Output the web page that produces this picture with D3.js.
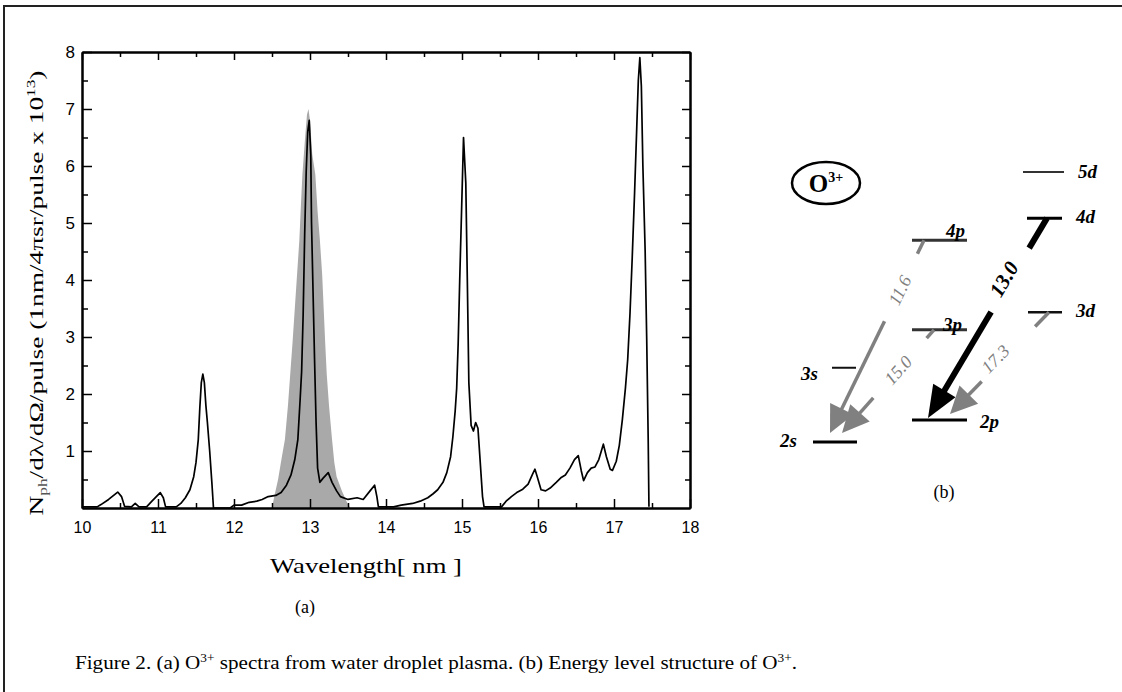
<!DOCTYPE html>
<html><head><meta charset="utf-8">
<script src="https://cdn.jsdelivr.net/npm/d3@7"></script>
<style>body{margin:0;background:#fff}svg{display:block}</style>
</head><body>
<svg id="c" width="1122" height="692"></svg>
<script>
// ---------- DATA ----------
const wavelength = [10.00,10.20,10.25,10.35,10.47,10.52,10.56,10.65,10.70,10.75,10.85,10.92,11.03,11.07,11.10,11.24,11.30,11.36,11.42,11.47,11.50,11.53,11.55,11.57,11.59,11.61,11.63,11.65,11.68,11.71,11.73,11.95,12.00,12.10,12.20,12.30,12.37,12.45,12.55,12.62,12.69,12.75,12.80,12.84,12.87,12.89,12.91,12.93,12.95,12.97,12.99,13.01,13.02,13.04,13.06,13.08,13.10,13.13,13.17,13.24,13.29,13.35,13.40,13.50,13.62,13.70,13.79,13.85,13.88,13.90,14.10,14.20,14.35,14.45,14.55,14.62,14.68,14.75,14.80,14.85,14.88,14.91,14.93,14.95,14.97,14.99,15.02,15.05,15.07,15.09,15.12,15.15,15.18,15.21,15.24,15.27,15.29,15.52,15.58,15.65,15.72,15.80,15.87,15.93,15.96,15.99,16.04,16.10,16.16,16.24,16.30,16.36,16.42,16.48,16.53,16.57,16.60,16.65,16.70,16.75,16.80,16.86,16.90,16.95,16.98,17.03,17.07,17.11,17.15,17.18,17.21,17.24,17.27,17.30,17.32,17.34,17.36,17.38,17.41,17.43,17.45,17.46];
const intensity  = [0.02,0.02,0.06,0.15,0.28,0.20,0.03,0.02,0.08,0.02,0.02,0.12,0.27,0.18,0.02,0.02,0.08,0.18,0.32,0.55,0.80,1.20,1.75,2.20,2.35,2.20,1.80,1.50,1.00,0.42,0.00,0.00,0.05,0.05,0.10,0.12,0.15,0.20,0.22,0.27,0.40,0.58,0.85,1.20,1.90,2.40,3.40,4.80,5.90,6.60,6.80,6.20,5.00,3.80,2.60,1.50,0.70,0.45,0.52,0.62,0.45,0.30,0.20,0.15,0.18,0.15,0.30,0.40,0.20,0.02,0.02,0.05,0.08,0.12,0.18,0.25,0.32,0.45,0.62,0.90,1.25,1.70,2.10,2.90,4.00,5.00,6.50,5.70,4.00,2.20,1.45,1.35,1.50,1.40,0.80,0.20,0.02,0.02,0.12,0.20,0.27,0.33,0.42,0.60,0.68,0.55,0.32,0.30,0.35,0.45,0.53,0.58,0.70,0.85,0.92,0.65,0.48,0.62,0.70,0.72,0.85,1.12,0.90,0.68,0.66,0.82,1.10,1.55,2.10,2.60,3.40,4.40,5.50,6.70,7.50,7.90,7.40,6.00,4.50,3.00,1.20,0.02];
// shaded (grey) reference profile around 13 nm
const shadeWavelength = [12.50,12.53,12.58,12.63,12.67,12.71,12.74,12.77,12.80,12.83,12.86,12.88,12.90,12.93,12.96,12.98,13.00,13.03,13.07,13.10,13.13,13.16,13.18,13.20,13.22,13.25,13.29,13.32,13.35,13.42,13.48,13.53];
const shadeIntensity  = [0.00,0.20,0.50,0.90,1.20,1.80,2.35,2.90,3.50,4.10,4.70,5.30,5.85,6.40,6.90,7.00,6.80,6.20,5.85,5.20,4.70,4.10,3.50,2.90,2.35,1.80,1.20,0.80,0.55,0.30,0.12,0.00];
const xTickValues = [10,11,12,13,14,15,16,17,18];
const yTickValues = [1,2,3,4,5,6,7,8];
// energy level diagram of O3+
const levelNames  = ["2s","3s","2p","3p","4p","3d","4d","5d"];
const levelEnergy = [0, 1.35, 0.40, 2.04, 3.67, 2.36, 4.07, 4.91];
const transFrom   = ["4p","3p","4d","3d"];
const transTo     = ["2s","2s","2p","2p"];
const transLabel  = ["11.6","15.0","13.0","17.3"];

// ---------- DRAW ----------
const svg = d3.select("#c");
svg.append("path").attr("d","M4,692V6H1122").attr("fill","none").attr("stroke","#222").attr("stroke-width",2);

const x = d3.scaleLinear().domain([10,18]).range([82,690]);
const y = d3.scaleLinear().domain([0,8]).range([508,52]);
const g = svg.append("g");

const shade = shadeWavelength.map((w,i)=>[w,shadeIntensity[i]]);
g.append("path").datum(shade)
  .attr("d", d3.area().x(d=>x(d[0])).y0(y(0)).y1(d=>y(d[1])))
  .attr("fill","#a9a9a9");

const spec = wavelength.map((w,i)=>[w,intensity[i]]);
g.append("path").datum(spec)
  .attr("d", d3.line().x(d=>x(d[0])).y(d=>y(d[1])))
  .attr("fill","none").attr("stroke","#000").attr("stroke-width",1.7).attr("stroke-linejoin","round");

const halfX = d3.range(10.5,18,1);
const halfY = d3.range(0.5,8,1);
function styleAxis(sel){
  sel.select(".domain").attr("stroke","#000").attr("stroke-width",2);
  sel.selectAll(".tick line").attr("stroke","#000").attr("stroke-width",1.5);
}
g.append("g").attr("transform",`translate(0,${y(0)})`)
  .call(d3.axisBottom(x).tickValues(xTickValues).tickSizeInner(-9).tickSizeOuter(0).tickPadding(14).tickFormat(d3.format("d")))
  .call(styleAxis)
  .call(s=>s.selectAll("text").attr("font-family","Liberation Sans, Arial, sans-serif").attr("font-size",16).attr("fill","#000"));
g.append("g").attr("transform",`translate(0,${y(0)})`)
  .call(d3.axisBottom(x).tickValues(halfX).tickSizeInner(-5).tickSizeOuter(0).tickFormat(""))
  .call(styleAxis);
g.append("g").attr("transform",`translate(0,${y(8)})`)
  .call(d3.axisTop(x).tickValues(xTickValues).tickSizeInner(-8).tickSizeOuter(0).tickFormat(""))
  .call(styleAxis);
g.append("g").attr("transform",`translate(0,${y(8)})`)
  .call(d3.axisTop(x).tickValues(halfX).tickSizeInner(-5).tickSizeOuter(0).tickFormat(""))
  .call(styleAxis);
g.append("g").attr("transform",`translate(${x(10)},0)`)
  .call(d3.axisLeft(y).tickValues(yTickValues).tickSizeInner(-10).tickSizeOuter(0).tickPadding(7).tickFormat(d3.format("d")))
  .call(styleAxis)
  .call(s=>s.selectAll("text").attr("font-family","Liberation Sans, Arial, sans-serif").attr("font-size",17).attr("fill","#000"));
g.append("g").attr("transform",`translate(${x(10)},0)`)
  .call(d3.axisLeft(y).tickValues(halfY).tickSizeInner(-6).tickSizeOuter(0).tickFormat(""))
  .call(styleAxis);
g.append("g").attr("transform",`translate(${x(18)},0)`)
  .call(d3.axisRight(y).tickValues(yTickValues).tickSizeInner(-8).tickSizeOuter(0).tickFormat(""))
  .call(styleAxis);
g.append("g").attr("transform",`translate(${x(18)},0)`)
  .call(d3.axisRight(y).tickValues(halfY).tickSizeInner(-5).tickSizeOuter(0).tickFormat(""))
  .call(styleAxis);

const serif = "Liberation Serif, Times New Roman, serif";
svg.append("text").attr("x",366).attr("y",573).attr("text-anchor","middle")
  .attr("font-family",serif).attr("font-size",21).attr("textLength",192).attr("lengthAdjust","spacingAndGlyphs")
  .text("Wavelength[ nm ]");
const yt = svg.append("text").attr("transform","translate(43,293) rotate(-90)").attr("text-anchor","middle")
  .attr("font-family",serif).attr("font-size",19).attr("textLength",445).attr("lengthAdjust","spacingAndGlyphs");
yt.append("tspan").text("N");
yt.append("tspan").attr("font-size",12).attr("dy",4).attr("fill","#555").text("ph");
yt.append("tspan").attr("dy",-4).text("/dλ/dΩ/pulse   (1nm/4πsr/pulse x 10");
yt.append("tspan").attr("font-size",12).attr("dy",-8).text("13");
yt.append("tspan").attr("dy",8).text(")");

svg.append("text").attr("x",305).attr("y",613).attr("text-anchor","middle")
  .attr("font-family",serif).attr("font-size",18).text("(a)");
svg.append("text").attr("x",944).attr("y",498).attr("text-anchor","middle")
  .attr("font-family",serif).attr("font-size",18).text("(b)");

const cap = svg.append("text").attr("x",75).attr("y",669)
  .attr("font-family",serif).attr("font-size",19).attr("textLength",722).attr("lengthAdjust","spacingAndGlyphs");
cap.append("tspan").text("Figure 2. (a) O");
cap.append("tspan").attr("font-size",12).attr("dy",-7).text("3+");
cap.append("tspan").attr("dy",7).text(" spectra from water droplet plasma.  (b) Energy level structure of  O");
cap.append("tspan").attr("font-size",12).attr("dy",-7).text("3+");
cap.append("tspan").attr("dy",7).text(".");

// ---------- energy level diagram ----------
const e = d3.scaleLinear().domain([0,5]).range([442,167]);
const levelLayout = {
  "2s":{x0:813,x1:857,w:3,c:"#000",lx:797,anchor:"end",dy:5},
  "3s":{x0:832,x1:856,w:2,c:"#111",lx:818,anchor:"end",dy:12},
  "2p":{x0:912,x1:967,w:3,c:"#000",lx:980,anchor:"start",dy:8},
  "3p":{x0:912,x1:967,w:3,c:"#333",lx:943,anchor:"start",dy:1},
  "4p":{x0:912,x1:967,w:3,c:"#333",lx:946,anchor:"start",dy:-3},
  "3d":{x0:1028,x1:1062,w:2.5,c:"#111",lx:1076,anchor:"start",dy:5},
  "4d":{x0:1027,x1:1062,w:3,c:"#000",lx:1076,anchor:"start",dy:5},
  "5d":{x0:1023,x1:1064,w:2,c:"#333",lx:1078,anchor:"start",dy:6}
};
const dg = svg.append("g");
const lvE = {};
levelNames.forEach((n,i)=>{
  lvE[n]=levelEnergy[i];
  const L=levelLayout[n], yy=e(levelEnergy[i]);
  dg.append("line").attr("x1",L.x0).attr("x2",L.x1).attr("y1",yy).attr("y2",yy)
    .attr("stroke",L.c).attr("stroke-width",L.w);
  dg.append("text").attr("x",L.lx).attr("y",yy+L.dy).attr("text-anchor",L.anchor)
    .attr("font-family",serif).attr("font-weight","bold").attr("font-style","italic").attr("font-size",19)
    .text(n);
});
const transLayout = [
  {x0:924,x1:830,tipOff:-9,stub:0.07,from:0.42,lt:0.26,lo:0,dark:false},
  {x0:934,x1:842,tipOff:-9,stub:0.08,from:0.66,lt:0.39,lo:0,dark:false},
  {x0:1047,x1:928,tipOff:-2,stub:0.15,from:0.47,lt:0.32,lo:6,dark:true},
  {x0:1049,x1:950,tipOff:-6,stub:0.14,from:0.68,lt:0.50,lo:6,dark:false}
];
transLabel.forEach((lab,i)=>{
  const T=transLayout[i];
  const ya=e(lvE[transFrom[i]]), yb=e(lvE[transTo[i]])+T.tipOff;
  const dx=T.x1-T.x0, dy=yb-ya, len=Math.hypot(dx,dy), ux=dx/len, uy=dy/len;
  const col = T.dark?"#000":"#808080";
  const hl = T.dark?32:27, hw = 13;
  const P=t=>[T.x0+dx*t, ya+dy*t];
  const tb = 1-(hl-4)/len;
  const sw = T.dark?6:3.5;
  let a=P(0), b=P(T.stub);
  dg.append("line").attr("x1",a[0]).attr("y1",a[1]).attr("x2",b[0]).attr("y2",b[1]).attr("stroke",col).attr("stroke-width",sw);
  a=P(T.from); b=P(tb);
  dg.append("line").attr("x1",a[0]).attr("y1",a[1]).attr("x2",b[0]).attr("y2",b[1]).attr("stroke",col).attr("stroke-width",sw);
  const bx=T.x1-ux*hl, by=yb-uy*hl;
  dg.append("path").attr("d",`M${T.x1},${yb}L${bx-uy*hw},${by+ux*hw}L${bx+uy*hw},${by-ux*hw}Z`).attr("fill",col);
  const ang = Math.atan2(dy,dx)*180/Math.PI - 180;
  const lp=P(T.lt);
  const lx=lp[0]-uy*T.lo, ly=lp[1]+ux*T.lo;
  dg.append("text").attr("transform",`translate(${lx},${ly}) rotate(${ang})`).attr("text-anchor","middle").attr("dy","0.35em")
    .attr("font-family",serif).attr("font-style","italic").attr("font-weight",T.dark?"bold":"normal")
    .attr("font-size",T.dark?21:18).attr("fill",col).text(lab);
});
dg.append("ellipse").attr("cx",826).attr("cy",183).attr("rx",34).attr("ry",21).attr("fill","none").attr("stroke","#000").attr("stroke-width",2.5);
const ot = dg.append("text").attr("x",826).attr("y",192).attr("text-anchor","middle").attr("font-family",serif).attr("font-weight","bold").attr("font-size",25);
ot.append("tspan").text("O");
ot.append("tspan").attr("font-size",14).attr("dy",-10).text("3+");
</script>
</body></html>
